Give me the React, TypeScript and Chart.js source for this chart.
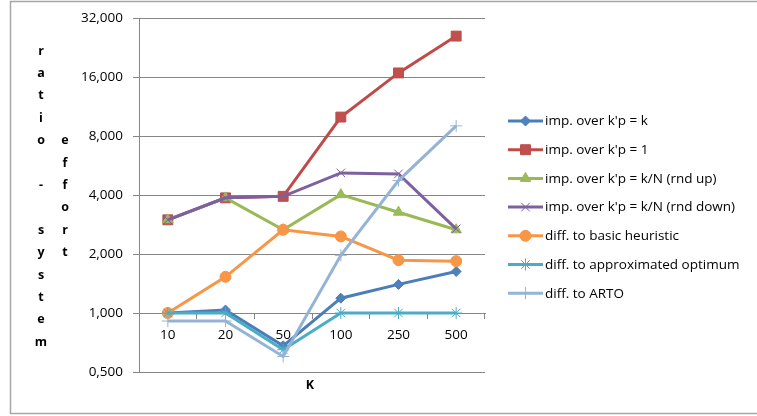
import React, { useEffect, useRef } from 'react';
import { Chart, registerables } from 'chart.js';
import { drawPoint } from 'chart.js/helpers';

Chart.register(...registerables);

const categories = ['10', '20', '50', '100', '250', '500'];
const impOverK = [1.0, 1.035, 0.68, 1.19, 1.4, 1.63];
const impOver1 = [2.99, 3.87, 3.94, 10.0, 16.8, 25.9];
const impRndUp = [2.99, 3.87, 2.66, 4.02, 3.27, 2.66];
const impRndDown = [2.99, 3.87, 3.94, 5.19, 5.13, 2.69];
const diffBasic = [1.0, 1.53, 2.66, 2.46, 1.86, 1.84];
const diffApprox = [1.0, 1.0, 0.65, 1.0, 1.0, 1.0];
const diffArto = [0.91, 0.91, 0.6, 1.97, 4.74, 9.02];
const yTicks = [0.5, 1, 2, 4, 8, 16, 32];
const seriesLabels = [
  "imp. over k'p = k",
  "imp. over k'p = 1",
  "imp. over k'p = k/N (rnd up)",
  "imp. over k'p = k/N (rnd down)",
  'diff. to basic heuristic',
  'diff. to approximated optimum',
  'diff. to ARTO',
];
const yTitleCol1 = 'ratio - system';
const yTitleCol2 = 'effort';
const xTitle = 'K';

const FONT = '"Open Sans", "Liberation Sans", sans-serif';

const styles = [
  { color: '#4A7EBB', fill: '#4F81BD', point: 'rectRot', r: 5 },
  { color: '#BE4B48', fill: '#C0504D', point: 'rect', r: 7 },
  { color: '#98B954', fill: '#9BBB59', point: 'triangle', r: 6 },
  { color: '#7D60A0', fill: '#8064A2', point: 'crossRot', r: 6 },
  { color: '#F79646', fill: '#F79646', point: 'circle', r: 5.5 },
  { color: '#4BACC6', fill: '#4BACC6', point: 'star', r: 6 },
  { color: '#95B3D7', fill: '#95B3D7', point: 'cross', r: 6 },
];

const seriesData = [impOverK, impOver1, impRndUp, impRndDown, diffBasic, diffApprox, diffArto];

const decorPlugin = {
  id: 'decor',
  beforeDraw(chart: any) {
    const { ctx, width, height } = chart;
    ctx.save();
    ctx.fillStyle = '#ffffff';
    ctx.fillRect(0, 0, width, height);
    ctx.restore();
  },
  afterDraw(chart: any) {
    const { ctx, chartArea } = chart;
    ctx.save();
    ctx.strokeStyle = '#a6a6a6';
    ctx.lineWidth = 1.5;
    ctx.strokeRect(10.5, 1.5, 760, 412);

    ctx.fillStyle = '#000000';
    ctx.font = `bold 12.5px ${FONT}`;
    ctx.textAlign = 'center';
    ctx.textBaseline = 'middle';
    const cy = (chartArea.top + chartArea.bottom) / 2 + 1.5;
    const step = 22.4;
    const drawCol = (text: string, x: number) => {
      const n = text.length;
      for (let i = 0; i < n; i++) {
        const ch = text[i];
        if (ch === ' ') continue;
        ctx.fillText(ch, x, cy - ((n - 1) / 2) * step + i * step);
      }
    };
    drawCol(yTitleCol1, chartArea.left - 98);
    drawCol(yTitleCol2, chartArea.left - 74);

    ctx.fillText(xTitle, (chartArea.left + chartArea.right) / 2 - 2, chartArea.bottom + 13);

    const lx = chartArea.right + 23;
    const ly0 = 121;
    const lstep = 28.7;
    ctx.font = `13.5px ${FONT}`;
    ctx.textAlign = 'left';
    chart.data.datasets.forEach((ds: any, i: number) => {
      const y = ly0 + i * lstep;
      ctx.strokeStyle = ds.borderColor;
      ctx.lineWidth = 3;
      ctx.beginPath();
      ctx.moveTo(lx, y);
      ctx.lineTo(lx + 35, y);
      ctx.stroke();
      ctx.fillStyle = ds.pointBackgroundColor;
      ctx.strokeStyle = ds.pointBorderColor;
      ctx.lineWidth = 1;
      drawPoint(ctx, { pointStyle: ds.pointStyle, radius: ds.pointRadius, rotation: 0, borderWidth: 1 } as any, lx + 17.5, y);
      ctx.fillStyle = '#000000';
      ctx.fillText(ds.label, lx + 37, y + 0.5);
    });
    ctx.restore();
  },
};

export default function App() {
  const ref = useRef<HTMLCanvasElement | null>(null);
  useEffect(() => {
    if (!ref.current) return;
    const chart = new Chart(ref.current, {
      type: 'line',
      data: {
        labels: categories,
        datasets: seriesData.map((d, i) => ({
          label: seriesLabels[i],
          data: d,
          borderColor: styles[i].color,
          backgroundColor: styles[i].fill,
          borderWidth: 3,
          pointStyle: styles[i].point as any,
          pointRadius: styles[i].r,
          pointBackgroundColor: styles[i].fill,
          pointBorderColor: styles[i].color,
          pointBorderWidth: 1,
          tension: 0,
          fill: false,
          order: seriesData.length - 1 - i,
        })),
      },
      options: {
        responsive: false,
        animation: false,
        layout: { padding: { top: 17, right: 272, bottom: 44, left: 0 } },
        plugins: { legend: { display: false }, tooltip: { enabled: false } },
        scales: {
          x: {
            type: 'category',
            position: { y: 1 } as any,
            offset: true,
            grid: {
              display: true,
              drawOnChartArea: false,
              drawTicks: true,
              tickLength: 5,
              offset: true,
              color: '#868686',
            },
            border: { display: true, color: '#868686', width: 1 },
            ticks: {
              color: '#000000',
              font: { family: FONT, size: 13.5 },
              padding: 9,
              maxRotation: 0,
              autoSkip: false,
            },
          },
          y: {
            type: 'logarithmic',
            min: 0.5,
            max: 32,
            position: 'left',
            afterBuildTicks(scale: any) {
              scale.ticks = yTicks.map((v) => ({ value: v }));
            },
            afterFit(scale: any) {
              scale.width = 139;
            },
            grid: {
              color: '#868686',
              lineWidth: 1,
              drawTicks: true,
              tickLength: 6,
            },
            border: { display: true, color: '#868686', width: 1 },
            ticks: {
              color: '#000000',
              font: { family: FONT, size: 13.5 },
              padding: 10,
              callback: (v: any) => Number(v).toFixed(3).replace('.', ','),
            },
          },
        },
      },
      plugins: [decorPlugin],
    });
    return () => chart.destroy();
  }, []);
  return (
    <div style={{ position: 'absolute', left: 0, top: 0, width: 757, height: 416 }}>
      <canvas ref={ref} width={757} height={416} />
    </div>
  );
}
